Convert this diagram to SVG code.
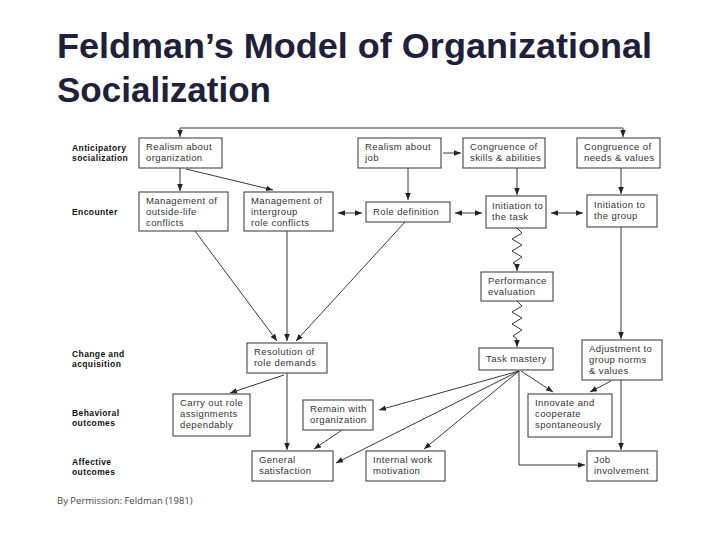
<svg xmlns="http://www.w3.org/2000/svg" width="720" height="540" viewBox="0 0 720 540">
<style>
.title{font-family:"Liberation Sans",Arial,sans-serif;font-weight:bold;font-size:35px;fill:#20203a}
.lab{font-family:"Liberation Sans",Arial,sans-serif;font-weight:bold;font-size:8.5px;fill:#111;letter-spacing:0.4px}
.bx rect{fill:#fff;stroke:#444;stroke-width:1.1}
.bx text{font-family:"Liberation Sans",Arial,sans-serif;font-size:9.5px;fill:#333;letter-spacing:0.4px}
.c path,.c polyline{fill:none;stroke:#222;stroke-width:0.9}
.foot{font-family:"Open Sans","Liberation Sans",sans-serif;font-size:9.5px;fill:#444}
</style>
<defs>
<marker id="ah" viewBox="0 0 10 10" refX="10" refY="5" markerWidth="7" markerHeight="7" markerUnits="userSpaceOnUse" orient="auto-start-reverse">
<path d="M0,1 L10,5 L0,9 z" fill="#222"/>
</marker>
</defs>
<rect width="720" height="540" fill="#fff"/>
<text class="title" x="57" y="58" textLength="595" lengthAdjust="spacingAndGlyphs">Feldman’s Model of Organizational</text>
<text class="title" x="57" y="102" textLength="214" lengthAdjust="spacingAndGlyphs">Socialization</text>

<g id="labels">
<text class="lab" x="72" y="151">Anticipatory</text>
<text class="lab" x="72" y="161">socialization</text>
<text class="lab" x="72" y="215">Encounter</text>
<text class="lab" x="72" y="357">Change and</text>
<text class="lab" x="72" y="367">acquisition</text>
<text class="lab" x="72" y="416">Behavioral</text>
<text class="lab" x="72" y="426">outcomes</text>
<text class="lab" x="72" y="465">Affective</text>
<text class="lab" x="72" y="475">outcomes</text>
</g>

<g class="c" id="connectors">
<path d="M180,137 V128 H623 V137" marker-start="url(#ah)" marker-end="url(#ah)"/>
<path d="M180,168 V191" marker-end="url(#ah)"/>
<path d="M186,169 L273,190" marker-end="url(#ah)"/>
<path d="M443,153 H461" marker-end="url(#ah)"/>
<path d="M408,168 V200" marker-end="url(#ah)"/>
<path d="M517,168 V195" marker-end="url(#ah)"/>
<path d="M621,168 V194" marker-end="url(#ah)"/>
<path d="M338,213 H362" marker-start="url(#ah)" marker-end="url(#ah)"/>
<path d="M455,213 H482" marker-start="url(#ah)" marker-end="url(#ah)"/>
<path d="M551,213 H583" marker-start="url(#ah)" marker-end="url(#ah)"/>
<path d="M195,231 L277,341" marker-end="url(#ah)"/>
<path d="M287,231 V341" marker-end="url(#ah)"/>
<path d="M405,222 L296,341" marker-end="url(#ah)"/>
<polyline points="517,228 522,233 512,239 522,245 512,251 522,257 513,263 517,265 517,271" marker-end="url(#ah)"/>
<polyline points="517,301 522,306 512,312 522,318 512,324 522,330 513,336 517,339 517,347" marker-end="url(#ah)"/>
<path d="M621,227 V339" marker-end="url(#ah)"/>
<path d="M287,373 V450" marker-end="url(#ah)"/>
<path d="M284,375 L230,393" marker-end="url(#ah)"/>
<path d="M519,371 L379,410" marker-end="url(#ah)"/>
<path d="M519,371 L336,463" marker-end="url(#ah)"/>
<path d="M519,371 L424,449" marker-end="url(#ah)"/>
<path d="M521,371 L553,392" marker-end="url(#ah)"/>
<path d="M519,371 V465 H585" marker-end="url(#ah)"/>
<path d="M342,430 L314,449" marker-end="url(#ah)"/>
<path d="M611,381 L590,392" marker-end="url(#ah)"/>
<path d="M621,380 V450" marker-end="url(#ah)"/>
</g>

<g class="bx" id="realism-org"><rect x="139" y="138" width="83" height="30"/><text x="146" y="150">Realism about</text><text x="146" y="161">organization</text></g>
<g class="bx" id="realism-job"><rect x="358" y="138" width="83" height="30"/><text x="365" y="150">Realism about</text><text x="365" y="161">job</text></g>
<g class="bx" id="congruence-skills"><rect x="463" y="138" width="82" height="30"/><text x="470" y="150">Congruence of</text><text x="470" y="161">skills &amp; abilities</text></g>
<g class="bx" id="congruence-needs"><rect x="577" y="138" width="83" height="30"/><text x="584" y="150">Congruence of</text><text x="584" y="161">needs &amp; values</text></g>

<g class="bx" id="mgmt-outside"><rect x="139" y="192" width="89" height="39"/><text x="146" y="204">Management of</text><text x="146" y="215">outside-life</text><text x="146" y="226">conflicts</text></g>
<g class="bx" id="mgmt-intergroup"><rect x="244" y="192" width="89" height="39"/><text x="251" y="204">Management of</text><text x="251" y="215">intergroup</text><text x="251" y="226">role conflicts</text></g>
<g class="bx" id="role-definition"><rect x="366" y="202" width="84" height="20"/><text x="373" y="215">Role definition</text></g>
<g class="bx" id="init-task"><rect x="486" y="196" width="60" height="32"/><text x="492" y="209">Initiation to</text><text x="492" y="220">the task</text></g>
<g class="bx" id="init-group"><rect x="587" y="195" width="70" height="32"/><text x="594" y="208">Initiation to</text><text x="594" y="219">the group</text></g>

<g class="bx" id="perf-eval"><rect x="481" y="272" width="72" height="29"/><text x="488" y="284">Performance</text><text x="488" y="295">evaluation</text></g>
<g class="bx" id="task-mastery"><rect x="479" y="348" width="74" height="22"/><text x="486" y="362">Task mastery</text></g>
<g class="bx" id="resolution"><rect x="247" y="343" width="80" height="30"/><text x="254" y="355">Resolution of</text><text x="254" y="366">role demands</text></g>
<g class="bx" id="adjustment"><rect x="582" y="340" width="80" height="40"/><text x="589" y="352">Adjustment to</text><text x="589" y="363">group norms</text><text x="589" y="374">&amp; values</text></g>

<g class="bx" id="carry-out"><rect x="173" y="394" width="77" height="42"/><text x="180" y="406">Carry out role</text><text x="180" y="417">assignments</text><text x="180" y="428">dependably</text></g>
<g class="bx" id="remain"><rect x="303" y="400" width="70" height="30"/><text x="310" y="412">Remain with</text><text x="310" y="423">organization</text></g>
<g class="bx" id="innovate"><rect x="528" y="394" width="84" height="43"/><text x="535" y="406">Innovate and</text><text x="535" y="417">cooperate</text><text x="535" y="428">spontaneously</text></g>

<g class="bx" id="general-sat"><rect x="252" y="451" width="81" height="30"/><text x="259" y="463">General</text><text x="259" y="474">satisfaction</text></g>
<g class="bx" id="internal-motivation"><rect x="366" y="451" width="79" height="30"/><text x="373" y="463">Internal work</text><text x="373" y="474">motivation</text></g>
<g class="bx" id="job-involvement"><rect x="587" y="451" width="70" height="30"/><text x="594" y="463">Job</text><text x="594" y="474">involvement</text></g>

<text class="foot" x="57" y="504">By Permission: Feldman (1981)</text>
</svg>
